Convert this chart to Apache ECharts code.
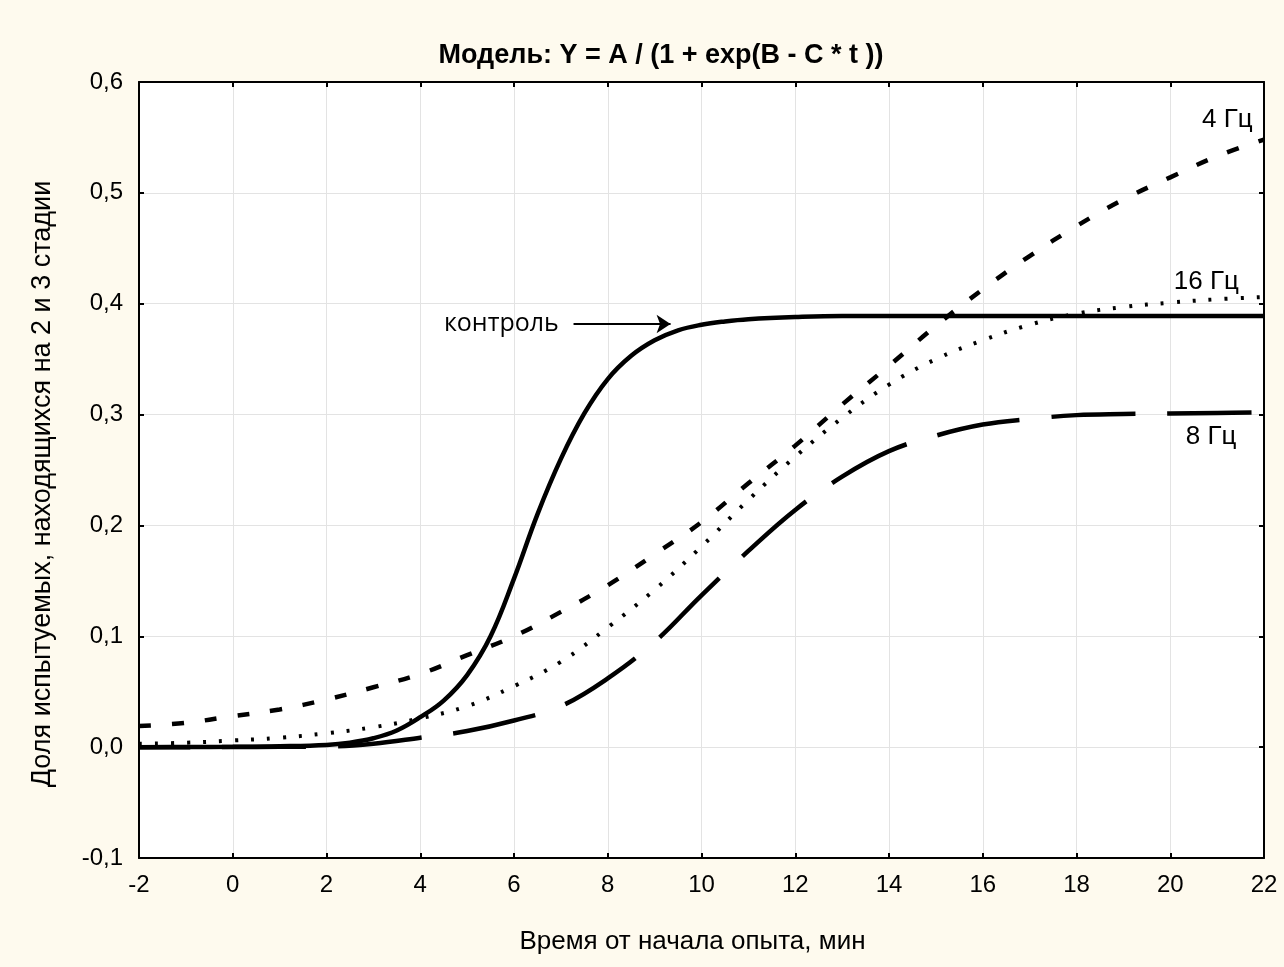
<!DOCTYPE html>
<html>
<head>
<meta charset="utf-8">
<script src="https://cdn.jsdelivr.net/npm/echarts@6/dist/echarts.min.js"></script>
<style>
html,body{margin:0;padding:0;background:#fefaee;}
#chart{width:1284px;height:967px;}
</style>
</head>
<body>
<div id="chart"></div>
<script>
// ---- data ----
const tControl = [-2,-1,0,1,2,2.5,3,3.5,4,4.5,5,5.5,6,6.5,7,7.5,8,8.5,9,9.5,10,10.5,11,12,13,14,16,18,20,22];
const vControl = [0,0.0001,0.0003,0.0008,0.002,0.004,0.008,0.015,0.027,0.042,0.065,0.100,0.152,0.210,0.260,0.301,0.332,0.353,0.367,0.376,0.381,0.384,0.386,0.388,0.389,0.389,0.389,0.389,0.389,0.389];

const tMinutes = [-2,-1,0,1,2,3,4,5,6,7,8,9,10,11,12,13,14,15,16,17,18,19,20,21,22];
const v4Hz  = [0.019,0.022,0.028,0.034,0.043,0.054,0.066,0.083,0.100,0.122,0.146,0.174,0.203,0.238,0.272,0.309,0.344,0.380,0.413,0.443,0.470,0.494,0.514,0.533,0.548];
const v16Hz = [0.003,0.004,0.006,0.0085,0.0125,0.018,0.026,0.037,0.055,0.077,0.108,0.142,0.181,0.223,0.262,0.297,0.327,0.350,0.367,0.381,0.391,0.397,0.401,0.404,0.406];
const v8Hz  = [0,0,0.0001,0.0003,0.0005,0.003,0.0085,0.0145,0.024,0.037,0.062,0.095,0.137,0.177,0.214,0.244,0.267,0.281,0.291,0.296,0.2995,0.3005,0.301,0.3015,0.302];

const xTicks = {min:-2, max:22, step:2};
const yTicks = {min:-0.1, max:0.6, step:0.1};

const titleText = 'Модель: Y = A / (1 + exp(B - C * t ))';
const xName = 'Время от начала опыта, мин';
const yName = 'Доля испытуемых, находящихся на 2 и 3 стадии';

const labels = [
  {text:'контроль', at:[5.73,0.3817], font:'Open Sans', size:25},
  {text:'4 Гц', at:[21.22,0.566], font:'Liberation Sans', size:26},
  {text:'16 Гц', at:[20.77,0.420], font:'Liberation Sans', size:26},
  {text:'8 Гц', at:[20.87,0.280], font:'Liberation Sans', size:26}
];
const arrowFrom = [7.27,0.3817], arrowTo = [9.34,0.3817];

// ---- chart ----
const pair = (ts, vs) => ts.map((t,i)=>[t, vs[i]]);
const fmtY = v => (Math.round(v*10)/10).toFixed(1).replace('.', ',');
const tickFont = {fontFamily:'Liberation Sans', fontSize:24, color:'#000'};
const nameFont = {fontFamily:'Liberation Sans', fontSize:26, color:'#000'};

const chart = echarts.init(document.getElementById('chart'), null, {renderer:'canvas'});

const xBase = {
  type:'value', min:xTicks.min, max:xTicks.max, interval:xTicks.step,
  axisLine:{show:true, onZero:false, lineStyle:{color:'#000', width:2}},
  axisTick:{show:true, inside:true, length:5, lineStyle:{color:'#000', width:2}},
  splitLine:{show:false}
};
const yBase = {
  type:'value', min:yTicks.min, max:yTicks.max, interval:yTicks.step,
  axisLine:{show:true, onZero:false, lineStyle:{color:'#000', width:2}},
  axisTick:{show:true, inside:true, length:5, lineStyle:{color:'#000', width:2}},
  splitLine:{show:false}
};

const labelPoint = l => ({
  coord:l.at, symbol:'circle', symbolSize:0,
  label:{show:true, position:'inside', formatter:l.text, color:'#000',
         fontFamily:l.font, fontSize:l.size}
});

chart.setOption({
  animation:false,
  backgroundColor:'#fefaee',
  title:{text:titleText, left:656, textAlign:'center', top:37,
    textStyle:{fontFamily:'Liberation Sans', fontWeight:'bold', fontSize:27, color:'#000'}},
  grid:{left:139, right:20, top:82, bottom:109, show:true, backgroundColor:'#ffffff', borderWidth:0},
  xAxis:[
    Object.assign({}, xBase, {position:'bottom',
      name:xName, nameLocation:'middle', nameGap:71,
      nameTextStyle:Object.assign({padding:[0,18,0,0]}, nameFont),
      axisLabel:Object.assign({margin:15}, tickFont),
      splitLine:{show:true, lineStyle:{color:'#e3e3e3', width:1}}}),
    Object.assign({}, xBase, {position:'top', axisLabel:{show:false}})
  ],
  yAxis:[
    Object.assign({}, yBase, {position:'left',
      name:yName, nameLocation:'middle', nameGap:83,
      nameTextStyle:Object.assign({padding:[0,28,0,0]}, nameFont, {fontSize:27}),
      axisLabel:Object.assign({margin:16, formatter:fmtY}, tickFont),
      splitLine:{show:true, lineStyle:{color:'#e3e3e3', width:1}}}),
    Object.assign({}, yBase, {position:'right', axisLabel:{show:false}})
  ],
  series:[
    {name:'8 Гц', type:'line', data:pair(tMinutes, v8Hz), smooth:0.4, showSymbol:false, symbol:'none',
     lineStyle:{color:'#000', width:4.5, type:[84,32], dashOffset:33, cap:'butt'}, z:2},
    {name:'16 Гц', type:'line', data:pair(tMinutes, v16Hz), smooth:0.4, showSymbol:false, symbol:'none',
     lineStyle:{color:'#000', width:4, type:[3,13], cap:'butt'}, z:3},
    {name:'4 Гц', type:'line', data:pair(tMinutes, v4Hz), smooth:0.4, showSymbol:false, symbol:'none',
     lineStyle:{color:'#000', width:4.5, type:[12,21], cap:'butt'}, z:4},
    {name:'контроль', type:'line', data:pair(tControl, vControl), smooth:0.4, showSymbol:false, symbol:'none',
     lineStyle:{color:'#000', width:4.5, type:'solid'}, z:5,
     markPoint:{silent:true, animation:false, data:labels.map(labelPoint)},
     markLine:{silent:true, animation:false, symbol:['none','arrow'], symbolSize:14,
       label:{show:false}, lineStyle:{color:'#000', width:2, type:'solid'},
       data:[[{coord:arrowFrom},{coord:arrowTo}]]}
    }
  ]
});
</script>
</body>
</html>
